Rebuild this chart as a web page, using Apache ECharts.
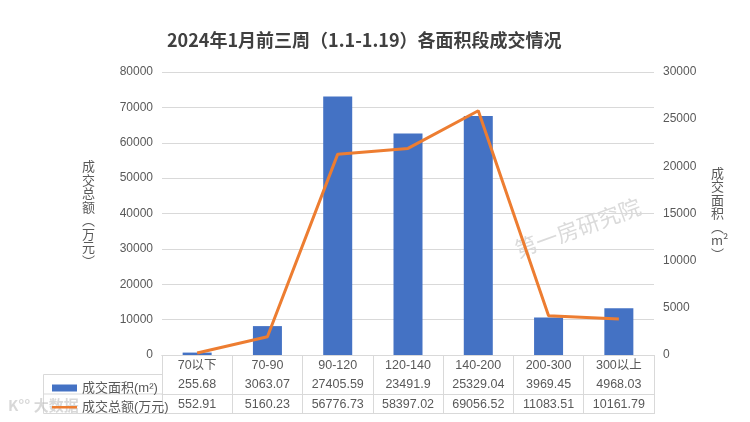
<!DOCTYPE html>
<html><head><meta charset="utf-8">
<script src="https://cdn.jsdelivr.net/npm/echarts@6/dist/echarts.min.js"></script>
<style>html,body{margin:0;padding:0;background:#fff}#c{width:750px;height:422px}</style>
</head><body><div id="c"></div>
<script>
var titleText = '2024年1月前三周（1.1-1.19）各面积段成交情况';
var categories = ['70以下','70-90','90-120','120-140','140-200','200-300','300以上'];
var areaValues = [255.68, 3063.07, 27405.59, 23491.9, 25329.04, 3969.45, 4968.03];
var amountValues = [552.91, 5160.23, 56776.73, 58397.02, 69056.52, 11083.51, 10161.79];
var areaName = '成交面积(m²)';
var amountName = '成交总额(万元)';
var leftTicks = {min: 0, max: 80000, interval: 10000};
var rightTicks = {min: 0, max: 30000, interval: 5000};

var cjk = '"Microsoft YaHei","Noto Sans CJK SC",sans-serif';
var font = 'Arial,"Liberation Sans","Noto Sans CJK SC",sans-serif';
var gray = '#595959';
var lineC = '#d9d9d9';
var chart = echarts.init(document.getElementById('c'));
var plain = function (v) { return String(v); };
var tableAxis = function (data, offset, showLabel) {
  return {
    type: 'category', data: data, position: 'bottom', offset: offset, gridIndex: 0,
    axisLine: {show: true, lineStyle: {color: lineC, width: 1}},
    axisTick: {show: false},
    axisLabel: {show: showLabel, interval: 0, margin: 4, color: gray, fontSize: 12.5, fontFamily: font},
    splitLine: {show: false}
  };
};
chart.setOption({
  animation: false,
  textStyle: {fontFamily: font},
  title: {text: titleText, left: 167, top: 31, padding: 0,
    textStyle: {fontSize: 18, fontWeight: 'bold', color: '#404040', fontFamily: cjk}},
  grid: {left: 162, right: 96, top: 72, bottom: 67},
  legend: {
    orient: 'vertical', left: 47, top: 376, itemWidth: 25, itemHeight: 7, itemGap: 5,
    textStyle: {color: gray, fontSize: 13, lineHeight: 14, fontFamily: font},
    data: [
      {name: areaName, icon: 'rect'},
      {name: amountName, icon: 'path://M0,0L0.01,0M0,2.5L25,2.5L25,5L0,5ZM0,7L0.01,7'}
    ]
  },
  xAxis: [
    {
      type: 'category', data: categories, position: 'bottom',
      axisLine: {show: true, lineStyle: {color: lineC}},
      axisTick: {show: true, length: 59, interval: 0, lineStyle: {color: lineC}},
      axisLabel: {interval: 0, margin: 4, color: gray, fontSize: 12.5, fontFamily: font}
    },
    tableAxis(areaValues.map(String), 19.5, true),
    tableAxis(amountValues.map(String), 39, true),
    tableAxis(categories, 58.5, false)
  ],
  yAxis: [
    {
      type: 'value', min: leftTicks.min, max: leftTicks.max, interval: leftTicks.interval,
      name: '成\n交\n总\n额\n︵\n万\n元\n︶', nameLocation: 'middle', nameRotate: 0, nameGap: 67,
      nameTextStyle: {color: gray, fontSize: 13, lineHeight: 13.5, fontFamily: cjk},
      axisLine: {show: false}, axisTick: {show: false},
      axisLabel: {color: gray, fontSize: 12, margin: 9, fontFamily: font, formatter: plain},
      splitLine: {lineStyle: {color: lineC}}
    },
    {
      type: 'value', min: rightTicks.min, max: rightTicks.max, interval: rightTicks.interval,
      name: '成\n交\n面\n积\n︵\nm²\n︶', nameLocation: 'middle', nameRotate: 0, nameGap: 57,
      nameTextStyle: {color: gray, fontSize: 13, lineHeight: 13.5, fontFamily: cjk},
      axisLine: {show: false}, axisTick: {show: false},
      axisLabel: {color: gray, fontSize: 12, margin: 9, fontFamily: font, formatter: plain},
      splitLine: {show: false}
    }
  ],
  graphic: [
    {type: 'polyline', silent: true, shape: {points: [[162, 374.5], [43.5, 374.5], [43.5, 413.5], [162, 413.5]]},
      style: {stroke: lineC, fill: null, lineWidth: 1}},
    {type: 'line', silent: true, shape: {x1: 43.5, y1: 394, x2: 162, y2: 394},
      style: {stroke: lineC, lineWidth: 1}},
    {type: 'text', silent: true, left: 512, top: 195, rotation: 20 * Math.PI / 180,
      style: {text: '第一房研究院', fill: 'rgba(150,150,150,0.35)', font: '22px ' + cjk}},
    {type: 'text', silent: true, left: 8, top: 398,
      style: {text: 'K°° 大数据', fill: 'rgba(190,190,190,0.6)', font: 'bold 15px ' + cjk}}
  ],
  series: [
    {
      name: areaName, type: 'bar', xAxisIndex: 0, yAxisIndex: 1, data: areaValues,
      barWidth: 29, itemStyle: {color: '#4472C4'}
    },
    {
      name: amountName, type: 'line', xAxisIndex: 0, yAxisIndex: 0, data: amountValues,
      symbol: 'none', lineStyle: {color: '#ED7D31', width: 3}, itemStyle: {color: '#ED7D31'}
    }
  ]
});
</script></body></html>
